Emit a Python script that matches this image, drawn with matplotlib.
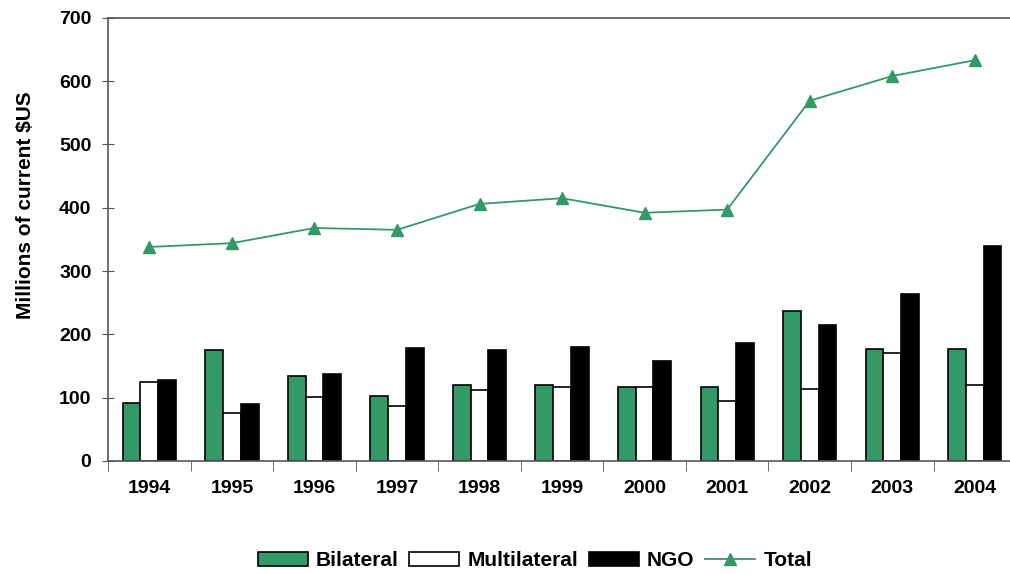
import numpy as np
import matplotlib.pyplot as plt

plt.rcParams['font.family'] = ['Liberation Sans', 'DejaVu Sans']

years = ['1994', '1995', '1996', '1997', '1998', '1999', '2000', '2001', '2002', '2003', '2004']
bilateral = [92, 175, 134, 102, 120, 120, 116, 116, 237, 177, 177]
multilateral = [124, 76, 101, 86, 112, 116, 116, 94, 113, 170, 120]
ngo = [128, 90, 137, 178, 175, 180, 158, 187, 215, 263, 339]
total = [338, 344, 368, 365, 406, 415, 392, 397, 569, 608, 633]

green = '#339966'

fig = plt.figure(figsize=(10.1, 5.74), dpi=100)
ax = fig.add_axes([0.107, 0.197, 0.899, 0.772])

x = np.arange(len(years))
w = 0.215
b1 = ax.bar(x - w, bilateral, w, color=green, edgecolor='black', linewidth=1.2, label='Bilateral')
b2 = ax.bar(x, multilateral, w, color='white', edgecolor='black', linewidth=1.2, label='Multilateral')
b3 = ax.bar(x + w, ngo, w, color='black', edgecolor='black', linewidth=1.2, label='NGO')
ln, = ax.plot(x, total, color=green, linewidth=1.3, marker='^', markersize=9,
              markerfacecolor=green, markeredgecolor=green, label='Total')

ax.set_xlim(-0.5, len(years) - 0.5)
ax.set_ylim(0, 700)
ax.set_yticks(range(0, 701, 100))
ax.set_xticks(x)
ax.set_xticklabels(years, fontsize=14, fontweight='bold')
ax.set_xticks(np.arange(-0.5, len(years), 1.0), minor=True)
ax.tick_params(axis='x', which='major', length=0, pad=14)
ax.tick_params(axis='x', which='minor', length=7, direction='out', color='#555555')
ax.tick_params(axis='y', length=8, direction='inout', color='#555555', labelsize=14, pad=8)
for lab in ax.get_yticklabels():
    lab.set_fontweight('bold')

ax.set_ylabel('Millions of current $US', fontsize=15, fontweight='bold')
ax.yaxis.set_label_coords(-0.081, 0.578)

ax.spines['right'].set_visible(False)
for s in ['left', 'bottom', 'top']:
    ax.spines[s].set_color('#555555')
    ax.spines[s].set_linewidth(1.2)

ax.legend([b1, b2, b3, ln], ['Bilateral', 'Multilateral', 'NGO', 'Total'],
          loc='center', bbox_to_anchor=(0.47, -0.225), ncol=4, frameon=False,
          prop={'size': 15, 'weight': 'bold'}, handlelength=2.4, handletextpad=0.4,
          columnspacing=0.5)

fig.savefig('out.png', dpi=100)
